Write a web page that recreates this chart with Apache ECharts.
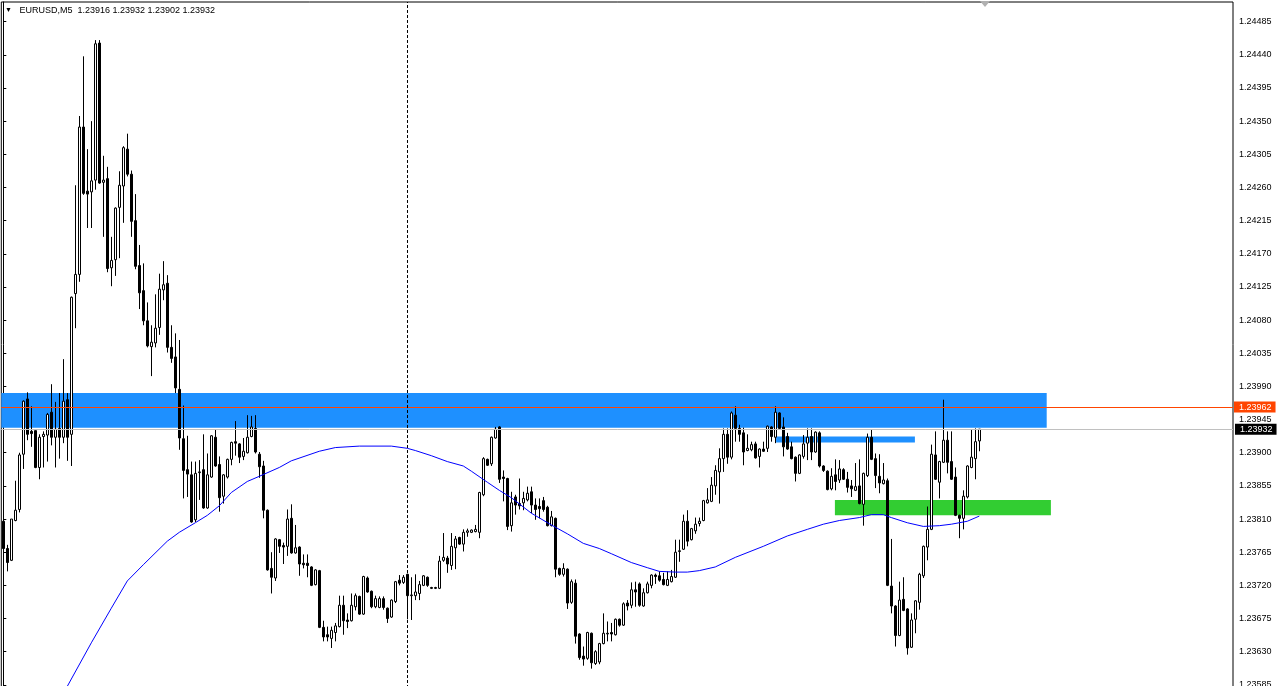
<!DOCTYPE html>
<html><head><meta charset="utf-8">
<script src="https://cdn.jsdelivr.net/npm/echarts@6/dist/echarts.min.js"></script>
<style>html,body{margin:0;padding:0;background:#fff;overflow:hidden}#c{width:1278px;height:686px}</style>
</head><body><div id="c"></div>
<script>
const symbolName = 'EURUSD,M5';
const openP = [1.23807,1.23770,1.23754,1.23808,1.23823,1.23898,1.23973,1.23929,1.23930,1.23880,1.23922,1.23924,1.23955,1.23921,1.23933,1.23921,1.23972,1.23925,1.24116,1.24142,
1.24342,1.24255,1.24254,1.24270,1.24456,1.24267,1.24272,1.24151,1.24162,1.24233,1.24262,1.24312,1.24278,1.24215,1.24154,1.24120,1.24079,1.24044,1.24049,1.24070,
1.24121,1.24130,1.24043,1.24030,1.23986,1.23919,1.23877,1.23870,1.23809,1.23873,1.23877,1.23825,1.23867,1.23921,1.23884,1.23841,1.23867,1.23891,1.23915,1.23912,
1.23895,1.23900,1.23922,1.23933,1.23898,1.23882,1.23822,1.23743,1.23730,1.23782,1.23774,1.23773,1.23811,1.23764,1.23772,1.23750,1.23750,1.23745,1.23721,1.23740,
1.23663,1.23653,1.23648,1.23656,1.23664,1.23693,1.23673,1.23672,1.23691,1.23705,1.23681,1.23730,1.23712,1.23691,1.23690,1.23702,1.23689,1.23677,1.23698,1.23727,
1.23724,1.23735,1.23706,1.23706,1.23709,1.23720,1.23731,1.23717,1.23717,1.23716,1.23754,1.23757,1.23747,1.23771,1.23785,1.23776,1.23792,1.23792,1.23793,1.23792,
1.23843,1.23891,1.23885,1.23920,1.23935,1.23867,1.23865,1.23801,1.23840,1.23831,1.23832,1.23836,1.23847,1.23829,1.23827,1.23835,1.23826,1.23801,1.23811,1.23743,
1.23735,1.23742,1.23697,1.23723,1.23654,1.23624,1.23621,1.23655,1.23614,1.23616,1.23641,1.23654,1.23656,1.23653,1.23674,1.23666,1.23696,1.23693,1.23714,1.23722,
1.23692,1.23710,1.23720,1.23734,1.23733,1.23728,1.23720,1.23725,1.23731,1.23766,1.23769,1.23807,1.23782,1.23794,1.23804,1.23808,1.23832,1.23834,1.23855,1.23874,
1.23892,1.23925,1.23894,1.23951,1.23933,1.23927,1.23903,1.23904,1.23912,1.23895,1.23905,1.23906,1.23935,1.23921,1.23954,1.23935,1.23922,1.23908,1.23894,1.23872,
1.23895,1.23913,1.23922,1.23901,1.23927,1.23882,1.23875,1.23851,1.23870,1.23863,1.23877,1.23864,1.23855,1.23849,1.23855,1.23830,1.23869,1.23921,1.23892,1.23868,
1.23858,1.23862,1.23719,1.23692,1.23652,1.23701,1.23688,1.23636,1.23674,1.23697,1.23733,1.23772,1.23796,1.23897,1.23860,1.23887,1.23917,1.23888,1.23867,1.23815,
1.23811,1.23840,1.23880,1.23892,1.23916];
const highP = [1.23812,1.23775,1.23810,1.23862,1.23900,1.23971,1.23982,1.23963,1.23930,1.23925,1.23929,1.23954,1.23993,1.23969,1.23981,1.24027,1.23981,1.24112,1.24263,1.24357,
1.24438,1.24312,1.24350,1.24460,1.24460,1.24303,1.24288,1.24193,1.24233,1.24282,1.24316,1.24333,1.24283,1.24251,1.24182,1.24157,1.24104,1.24073,1.24115,1.24143,
1.24160,1.24141,1.24073,1.24062,1.24053,1.23964,1.23923,1.23888,1.23888,1.23890,1.23925,1.23899,1.23924,1.23931,1.23895,1.23871,1.23892,1.23915,1.23943,1.23913,
1.23920,1.23951,1.23950,1.23951,1.23901,1.23889,1.23823,1.23765,1.23784,1.23783,1.23778,1.23823,1.23830,1.23802,1.23773,1.23762,1.23762,1.23746,1.23742,1.23741,
1.23672,1.23664,1.23664,1.23669,1.23706,1.23706,1.23682,1.23709,1.23709,1.23706,1.23733,1.23732,1.23713,1.23706,1.23705,1.23705,1.23690,1.23701,1.23726,1.23734,
1.23734,1.23736,1.23731,1.23735,1.23726,1.23734,1.23732,1.23718,1.23718,1.23760,1.23791,1.23760,1.23791,1.23787,1.23786,1.23796,1.23797,1.23796,1.23802,1.23847,
1.23894,1.23892,1.23922,1.23935,1.23936,1.23876,1.23866,1.23847,1.23843,1.23865,1.23847,1.23854,1.23854,1.23838,1.23838,1.23840,1.23828,1.23821,1.23812,1.23744,
1.23750,1.23743,1.23728,1.23728,1.23655,1.23637,1.23657,1.23656,1.23632,1.23642,1.23682,1.23671,1.23669,1.23675,1.23675,1.23697,1.23700,1.23724,1.23725,1.23724,
1.23716,1.23725,1.23735,1.23736,1.23739,1.23737,1.23739,1.23741,1.23782,1.23782,1.23816,1.23822,1.23798,1.23812,1.23812,1.23836,1.23852,1.23867,1.23883,1.23906,
1.23933,1.23933,1.23956,1.23963,1.23938,1.23934,1.23925,1.23915,1.23915,1.23906,1.23915,1.23937,1.23936,1.23963,1.23955,1.23948,1.23927,1.23915,1.23895,1.23898,
1.23924,1.23933,1.23933,1.23929,1.23929,1.23883,1.23876,1.23879,1.23891,1.23890,1.23879,1.23874,1.23863,1.23886,1.23891,1.23873,1.23926,1.23932,1.23899,1.23898,
1.23886,1.23865,1.23783,1.23693,1.23725,1.23731,1.23689,1.23682,1.23700,1.23737,1.23774,1.23827,1.23911,1.23929,1.23889,1.23972,1.23929,1.23929,1.23880,1.23816,
1.23849,1.23883,1.23931,1.23933,1.23932];
const lowP = [1.23761,1.23739,1.23753,1.23807,1.23819,1.23878,1.23917,1.23908,1.23879,1.23864,1.23880,1.23888,1.23910,1.23880,1.23892,1.23913,1.23889,1.23882,1.24069,1.24132,
1.24250,1.24205,1.24205,1.24257,1.24265,1.24193,1.24145,1.24126,1.24140,1.24164,1.24212,1.24275,1.24193,1.24149,1.24095,1.24073,1.24043,1.24004,1.24043,1.24060,
1.24107,1.24036,1.24022,1.23981,1.23904,1.23838,1.23840,1.23805,1.23806,1.23836,1.23824,1.23824,1.23866,1.23881,1.23820,1.23831,1.23865,1.23883,1.23896,1.23886,
1.23890,1.23899,1.23921,1.23899,1.23866,1.23811,1.23740,1.23709,1.23726,1.23764,1.23749,1.23760,1.23763,1.23763,1.23733,1.23743,1.23731,1.23719,1.23720,1.23662,
1.23644,1.23644,1.23635,1.23644,1.23663,1.23653,1.23662,1.23671,1.23686,1.23680,1.23680,1.23710,1.23689,1.23689,1.23689,1.23687,1.23669,1.23676,1.23696,1.23720,
1.23722,1.23674,1.23673,1.23700,1.23700,1.23719,1.23718,1.23715,1.23715,1.23715,1.23752,1.23737,1.23741,1.23742,1.23775,1.23766,1.23786,1.23791,1.23792,1.23784,
1.23841,1.23882,1.23882,1.23919,1.23859,1.23834,1.23795,1.23793,1.23816,1.23823,1.23822,1.23834,1.23818,1.23809,1.23811,1.23820,1.23800,1.23800,1.23731,1.23733,
1.23732,1.23688,1.23695,1.23641,1.23619,1.23611,1.23619,1.23607,1.23612,1.23613,1.23640,1.23644,1.23644,1.23652,1.23664,1.23665,1.23686,1.23689,1.23691,1.23691,
1.23691,1.23709,1.23716,1.23722,1.23725,1.23720,1.23719,1.23724,1.23730,1.23752,1.23768,1.23773,1.23781,1.23790,1.23800,1.23807,1.23831,1.23833,1.23843,1.23831,
1.23874,1.23885,1.23891,1.23915,1.23915,1.23883,1.23902,1.23902,1.23892,1.23880,1.23901,1.23901,1.23915,1.23913,1.23931,1.23895,1.23904,1.23891,1.23861,1.23871,
1.23892,1.23890,1.23890,1.23900,1.23880,1.23874,1.23849,1.23849,1.23849,1.23859,1.23863,1.23846,1.23840,1.23848,1.23830,1.23801,1.23867,1.23890,1.23852,1.23845,
1.23857,1.23719,1.23682,1.23637,1.23651,1.23685,1.23626,1.23635,1.23655,1.23687,1.23730,1.23754,1.23795,1.23863,1.23838,1.23886,1.23872,1.23863,1.23814,1.23784,
1.23796,1.23838,1.23879,1.23864,1.23902];
const closeP = [1.23770,1.23751,1.23810,1.23822,1.23897,1.23970,1.23925,1.23926,1.23880,1.23921,1.23925,1.23952,1.23921,1.23932,1.23921,1.23970,1.23921,1.24111,1.24142,1.24342,
1.24252,1.24251,1.24269,1.24455,1.24266,1.24270,1.24150,1.24161,1.24232,1.24263,1.24314,1.24278,1.24214,1.24153,1.24117,1.24079,1.24045,1.24050,1.24069,1.24122,
1.24128,1.24043,1.24028,1.23988,1.23920,1.23876,1.23871,1.23806,1.23872,1.23874,1.23825,1.23870,1.23923,1.23882,1.23839,1.23870,1.23891,1.23914,1.23913,1.23894,
1.23902,1.23921,1.23935,1.23901,1.23881,1.23822,1.23741,1.23731,1.23783,1.23773,1.23772,1.23810,1.23764,1.23771,1.23749,1.23748,1.23747,1.23720,1.23741,1.23663,
1.23650,1.23650,1.23659,1.23665,1.23693,1.23672,1.23671,1.23693,1.23706,1.23681,1.23732,1.23711,1.23691,1.23702,1.23702,1.23690,1.23675,1.23700,1.23725,1.23723,
1.23731,1.23706,1.23707,1.23711,1.23721,1.23733,1.23720,1.23716,1.23716,1.23753,1.23758,1.23749,1.23773,1.23783,1.23776,1.23792,1.23794,1.23795,1.23796,1.23846,
1.23892,1.23883,1.23921,1.23932,1.23864,1.23865,1.23800,1.23832,1.23829,1.23828,1.23838,1.23845,1.23829,1.23823,1.23824,1.23823,1.23801,1.23813,1.23742,1.23735,
1.23743,1.23696,1.23725,1.23651,1.23622,1.23620,1.23656,1.23615,1.23630,1.23641,1.23655,1.23655,1.23654,1.23674,1.23666,1.23695,1.23692,1.23714,1.23711,1.23693,
1.23710,1.23722,1.23734,1.23732,1.23727,1.23721,1.23728,1.23732,1.23765,1.23767,1.23807,1.23780,1.23797,1.23803,1.23807,1.23835,1.23836,1.23856,1.23876,1.23892,
1.23925,1.23894,1.23954,1.23933,1.23925,1.23901,1.23906,1.23911,1.23893,1.23905,1.23902,1.23936,1.23922,1.23955,1.23933,1.23908,1.23905,1.23892,1.23872,1.23897,
1.23912,1.23921,1.23901,1.23928,1.23882,1.23876,1.23850,1.23868,1.23861,1.23878,1.23864,1.23853,1.23851,1.23854,1.23831,1.23872,1.23921,1.23891,1.23869,1.23859,
1.23863,1.23720,1.23692,1.23652,1.23700,1.23686,1.23635,1.23673,1.23699,1.23735,1.23773,1.23796,1.23898,1.23864,1.23888,1.23917,1.23887,1.23864,1.23815,1.23811,
1.23841,1.23882,1.23894,1.23915,1.23932];
// moving average, read at sampled bars: bar index / value
const maBar = [16,22,27,31,35,41,44,48,51,54,57,61,64,69,72,79,83,89,97,101,103,107,111,115,117,121,124,127,132,137,141,145,149,152,157,161,164,168,171,174,178,183,190,196,201,205,209,214,217,220,222,226,230,234,237,241,244];
const maVal = [1.23583,1.23642,1.23689,1.23726,1.23748,1.23780,1.23792,1.23805,1.23815,1.23828,1.23846,1.23861,1.23868,1.23880,1.23889,1.23902,1.23907,1.23909,1.23909,1.23906,1.23903,1.23896,1.23888,1.23882,1.23875,1.23860,1.23849,1.23839,1.23818,1.23802,1.23790,1.23777,1.23770,1.23763,1.23751,1.23744,1.23739,1.23738,1.23738,1.23740,1.23745,1.23758,1.23773,1.23787,1.23796,1.23803,1.23808,1.23812,1.23816,1.23816,1.23812,1.23805,1.23800,1.23801,1.23803,1.23807,1.23814];
const yMin = 1.23540, yMax = 1.2451171, yStep = 0.00045;
const askLevel = 1.23962, bidLevel = 1.23932;
const separatorBar = 101;
// zones: [barFrom, priceTop, barTo, priceBottom, colour]
const zoneBigBlue = [-0.5, 1.23981, 260.85, 1.23934, '#1E90FF'];
const zoneSmallBlue = [193.2, 1.23922, 227.9, 1.23914, '#1E90FF'];
const zoneGreen = [207.9, 1.23836, 261.9, 1.23815, '#32CD32'];

const FONT = "'Liberation Sans',Arial,sans-serif";
const FS = 9;
const candles = openP.map((o, i) => [i, o, closeP[i], lowP[i], highP[i]]);
const ma = maBar.map((b, i) => [b, maVal[i]]);
const last = openP.length - 1;
const head = [openP[last], highP[last], lowP[last], closeP[last]].map(v => v.toFixed(5)).join(' ');
const zoneItem = z => [{xAxis: z[0], yAxis: z[1], itemStyle: {color: z[4], opacity: 1}}, {xAxis: z[2], yAxis: z[3]}];

const chart = echarts.init(document.getElementById('c'), null, {renderer: 'canvas'});
chart.setOption({
  animation: false,
  backgroundColor: '#ffffff',
  title: {
    text: '{t|▼}   ' + symbolName + '  ' + head,
    left: 5, top: 6, padding: 0,
    textStyle: {fontSize: FS, fontWeight: 'normal', color: '#000', fontFamily: FONT,
      rich: {t: {fontSize: 7, color: '#000', fontFamily: FONT}}}
  },
  grid: {left: 1.3, right: 45, top: 2, bottom: -32, show: true, borderColor: '#000', borderWidth: 1,
    backgroundColor: '#fff', containLabel: false, outerBoundsMode: 'none'},
  xAxis: {type: 'value', min: -0.5, max: 307.425, show: false},
  yAxis: {
    type: 'value', position: 'right', min: yMin, max: yMax, interval: yStep,
    axisLine: {show: true, lineStyle: {color: '#000', width: 1}},
    axisTick: {show: true, length: 3, lineStyle: {color: '#000'}},
    axisLabel: {color: '#000', fontSize: FS, fontFamily: FONT, margin: 6, showMaxLabel: false, showMinLabel: false,
      formatter: v => v.toFixed(5)},
    splitLine: {show: false}
  },
  graphic: [{type: 'polygon', shape: {points: [[980, 1], [990, 1], [985, 7]]}, style: {fill: '#B0B0B0'}, silent: true}],
  series: [
    {
      type: 'candlestick', data: candles, encode: {x: 0, y: [1, 2, 3, 4]},
      barWidth: 3, silent: true,
      itemStyle: {color: '#ffffff', color0: '#000000', borderColor: '#000000', borderColor0: '#000000', borderColorDoji: '#000000', borderWidth: 1},
      markArea: {silent: true, label: {show: false}, data: [zoneItem(zoneBigBlue), zoneItem(zoneSmallBlue), zoneItem(zoneGreen)]},
      markLine: {
        silent: true, symbol: ['none', 'none'], animation: false, precision: 5,
        data: [
          {yAxis: bidLevel, lineStyle: {color: '#C0C0C0', width: 1, type: 'solid'},
            label: {show: true, position: 'end', distance: 2, formatter: p => Number(p.value).toFixed(5), color: '#fff', backgroundColor: '#000',
              padding: [1, 4, 1, 5], fontSize: FS, fontFamily: FONT, lineHeight: 9}},
          {yAxis: askLevel, lineStyle: {color: '#FF4500', width: 1, type: 'solid'},
            label: {show: true, position: 'end', distance: 1, formatter: p => Number(p.value).toFixed(5), color: '#fff', backgroundColor: '#FF4500',
              padding: [1, 4, 1, 5], fontSize: FS, fontFamily: FONT, lineHeight: 9}},
          {xAxis: separatorBar, lineStyle: {color: '#000', width: 1, type: [3, 2]}, label: {show: false}}
        ]
      }
    },
    {
      type: 'line', data: ma, symbol: 'none', silent: true, clip: true, z: 3,
      lineStyle: {color: '#0000FF', width: 1}
    }
  ]
});
</script></body></html>
